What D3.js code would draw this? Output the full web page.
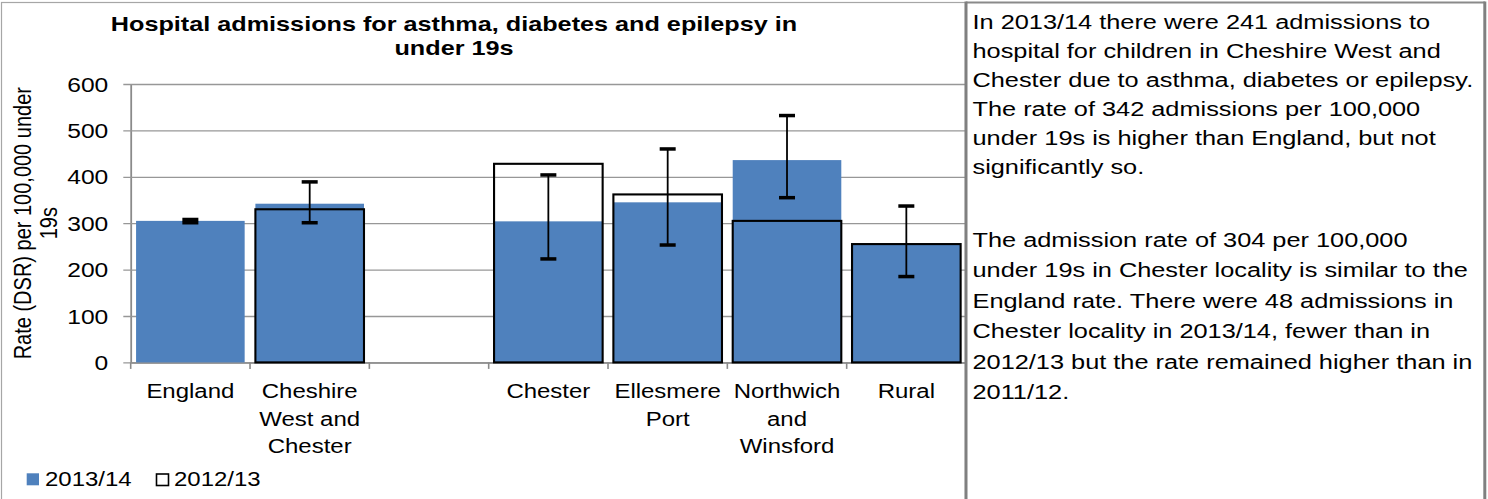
<!DOCTYPE html>
<html>
<head>
<meta charset="utf-8">
<script src="https://cdn.jsdelivr.net/npm/d3@7"></script>
<style>
  html, body { margin: 0; padding: 0; background: #fff; }
  svg { display: block; }
  text { font-family: "Liberation Sans", Arial, sans-serif; fill: #000; }
</style>
</head>
<body>
<svg id="chart" width="1488" height="499"></svg>
<script>
// ---------------- data ----------------
const categories = ["England", "Cheshire West and Chester", "", "Chester", "Ellesmere Port", "Northwich and Winsford", "Rural"];
const categoryLines = [["England"], ["Cheshire", "West and", "Chester"], [""], ["Chester"], ["Ellesmere", "Port"], ["Northwich", "and", "Winsford"], ["Rural"]];
const rate201314 = [305, 342, null, 304, 345, 436, 253];
const rate201213 = [null, 330, null, 428, 362, 305, 255];
const ciLower201314 = [301, 301, null, 223, 253, 355, 185];
const ciUpper201314 = [308, 389, null, 404, 460, 532, 337];
const yTicks = [0, 100, 200, 300, 400, 500, 600];
const seriesNames = ["2013/14", "2012/13"];
const titleLines = ["Hospital admissions for asthma, diabetes and epilepsy in", "under 19s"];
const yLabelLines = ["Rate (DSR) per 100,000 under", "19s"];
const noteParagraphs = [
  ["In 2013/14 there were 241 admissions to",
   "hospital for children in Cheshire West and",
   "Chester due to asthma, diabetes or epilepsy.",
   "The rate of 342 admissions per 100,000",
   "under 19s is higher than England, but not",
   "significantly so."],
  ["The admission rate of 304 per 100,000",
   "under 19s in Chester locality is similar to the",
   "England rate. There were 48 admissions in",
   "Chester locality in 2013/14, fewer than in",
   "2012/13 but the rate remained higher than in",
   "2011/12."]
];

// ---------------- layout ----------------
const SX = 1.23;          // horizontal glyph stretch seen in the reference
const FS = 19.5;          // chart font size
const FS_NOTE = 20.6;     // text box font size
const blue = "#4F81BD";
const gridGray = "#979797";
const axisGray = "#8a8a8a";
const plot = { left: 130.7, right: 966, top: 84, bottom: 362.4 };

const svg = d3.select("#chart");

function sText(parent, str, tx, ty, anchor, size, weight) {
  return parent.append("text")
    .attr("transform", `translate(${tx},${ty}) scale(${SX},1)`)
    .attr("text-anchor", anchor || "start")
    .style("font-size", (size || FS) + "px")
    .style("font-weight", weight || "normal")
    .text(str);
}

// chart outer frame
svg.append("rect")
  .attr("x", 1.5).attr("y", 2.5)
  .attr("width", 964).attr("height", 520)
  .attr("fill", "#fff").attr("stroke", "#a6a6a6").attr("stroke-width", 1.2);

const x = d3.scaleBand()
  .domain(d3.range(categories.length))
  .range([plot.left, plot.right])
  .paddingInner(0.09)
  .paddingOuter(0.045);

const y = d3.scaleLinear().domain([0, 600]).range([plot.bottom, plot.top]);

// y axis with gridlines
const yAxis = d3.axisLeft(y)
  .tickValues(yTicks)
  .tickSizeInner(-(plot.right - plot.left))
  .tickSizeOuter(0)
  .tickFormat(d3.format("d"));

const gy = svg.append("g").attr("transform", `translate(${plot.left},0)`).call(yAxis);
gy.select(".domain").attr("stroke", axisGray).attr("stroke-width", 1.8);
gy.selectAll(".tick line").attr("stroke", gridGray).attr("stroke-width", 1.3).attr("x1", -7.4);
gy.selectAll(".tick text")
  .attr("x", null).attr("dy", "0.35em")
  .attr("transform", `translate(-22.4,0) scale(${SX},1)`)
  .attr("text-anchor", "end")
  .attr("fill", "#000")
  .style("font-size", "20px")
  .style("font-family", '"Liberation Sans", Arial, sans-serif');

// x axis
const xAxis = d3.axisBottom(x).tickSize(0).tickFormat("");
const gx = svg.append("g").attr("transform", `translate(0,${plot.bottom})`).call(xAxis);
gx.select(".domain").attr("stroke", axisGray).attr("stroke-width", 1.5);
gx.selectAll(".tick").remove();
const step = x.step();
const boundaries = d3.range(categories.length + 1).map(i =>
  i < categories.length ? x(i) - x.paddingInner() * step / 2 : x(i - 1) + x.bandwidth() + x.paddingInner() * step / 2);
gx.selectAll("line.bt").data(boundaries).join("line")
  .attr("class", "bt")
  .attr("x1", d => d).attr("x2", d => d)
  .attr("y1", 0).attr("y2", 6.5)
  .attr("stroke", axisGray).attr("stroke-width", 1.6);

// category labels
categoryLines.forEach((lines, i) => {
  const cx = x(i) + x.bandwidth() / 2;
  lines.forEach((ln, j) => {
    if (ln) sText(svg, ln, cx, 398 + j * 27.5, "middle");
  });
});

// bars 2013/14
const bw = x.bandwidth();
svg.append("g").selectAll("rect")
  .data(rate201314.map((v, i) => ({ v, i })).filter(d => d.v != null))
  .join("rect")
  .attr("x", d => x(d.i)).attr("width", bw)
  .attr("y", d => y(d.v)).attr("height", d => y(0) - y(d.v))
  .attr("fill", blue);

// bars 2012/13 (outline only)
svg.append("g").selectAll("rect")
  .data(rate201213.map((v, i) => ({ v, i })).filter(d => d.v != null))
  .join("rect")
  .attr("x", d => x(d.i)).attr("width", bw)
  .attr("y", d => y(d.v)).attr("height", d => y(0) - y(d.v))
  .attr("fill", "none").attr("stroke", "#000").attr("stroke-width", 2.1);

// error bars
const errData = rate201314.map((v, i) => ({ i, lo: ciLower201314[i], hi: ciUpper201314[i] })).filter(d => d.lo != null);
const ge = svg.append("g");
ge.selectAll("line").data(errData).join("line")
  .attr("x1", d => x(d.i) + bw / 2).attr("x2", d => x(d.i) + bw / 2)
  .attr("y1", d => y(d.lo)).attr("y2", d => y(d.hi))
  .attr("stroke", "#000").attr("stroke-width", 1.8);
const caps = errData.flatMap(d => [{ i: d.i, v: d.lo }, { i: d.i, v: d.hi }]);
ge.selectAll("rect").data(caps).join("rect")
  .attr("x", d => x(d.i) + bw / 2 - 8).attr("width", 16)
  .attr("y", d => y(d.v) - 1.75).attr("height", 3.5)
  .attr("fill", "#000");

// title
titleLines.forEach((t, j) => sText(svg, t, 454, 31 + j * 23.5, "middle", 20.5, "bold"));

// y axis title (rotated, two lines)
const yl = svg.append("text")
  .attr("transform", `translate(30.5,${(plot.top + plot.bottom) / 2}) scale(${SX},1) rotate(-90)`)
  .attr("text-anchor", "middle")
  .style("font-size", "20px");
yLabelLines.forEach((t, j) => yl.append("tspan").attr("x", 0).attr("y", j * 21.5).text(t));

// legend
const lg = svg.append("g");
lg.append("rect").attr("x", 26.7).attr("y", 473.3).attr("width", 12.3).attr("height", 12).attr("fill", blue);
sText(lg, seriesNames[0], 45, 485.6, "start");
lg.append("rect").attr("x", 156.5).attr("y", 474).attr("width", 12).attr("height", 11.5)
  .attr("fill", "#fff").attr("stroke", "#000").attr("stroke-width", 1.6);
sText(lg, seriesNames[1], 174, 485.6, "start");

// text box
const tb = svg.append("g");
tb.append("rect").attr("x", 966).attr("y", 2.5).attr("width", 518.5).attr("height", 520).attr("fill", "#fff");
tb.append("line").attr("x1", 966).attr("x2", 1485).attr("y1", 2.5).attr("y2", 2.5).attr("stroke", "#8a8a8a").attr("stroke-width", 2);
tb.append("line").attr("x1", 966).attr("x2", 966).attr("y1", 1.5).attr("y2", 499).attr("stroke", "#808080").attr("stroke-width", 3);
tb.append("line").attr("x1", 1484.8).attr("x2", 1484.8).attr("y1", 1.5).attr("y2", 499).attr("stroke", "#808080").attr("stroke-width", 3);
const paraStart = [28.5, 247];
const paraPitch = [29.0, 30.4];
noteParagraphs.forEach((lines, p) => {
  lines.forEach((t, j) => sText(tb, t, 972.5, paraStart[p] + j * paraPitch[p], "start", FS_NOTE));
});
</script>
</body>
</html>
